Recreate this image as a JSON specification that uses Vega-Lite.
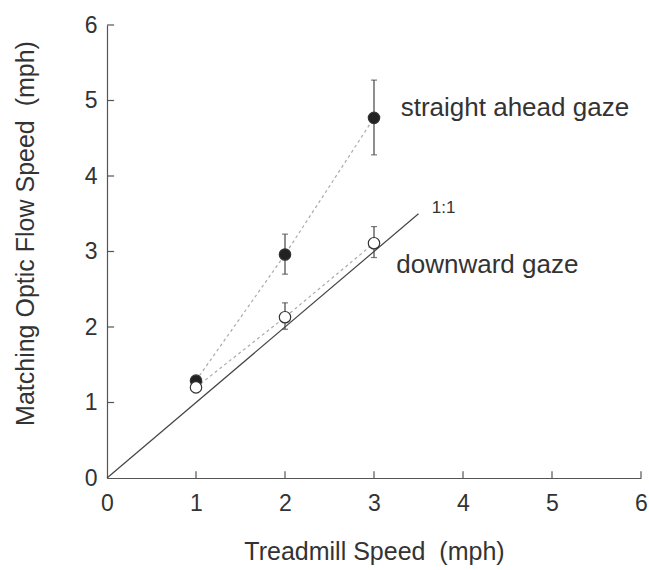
{
  "$schema": "https://vega.github.io/schema/vega-lite/v6.json",
  "autosize": "none",
  "width": 534,
  "height": 453,
  "padding": {"left": 107, "top": 25, "right": 8, "bottom": 92},
  "background": "white",
  "config": {
    "view": {"stroke": null},
    "font": "Liberation Sans",
    "axis": {
      "grid": false,
      "ticks": false,
      "labelFlush": false,
      "domainColor": "#555",
      "labelColor": "#333",
      "titleColor": "#333",
      "labelFont": "Liberation Sans",
      "titleFont": "Liberation Sans",
      "labelFontSize": 23,
      "titleFontSize": 25,
      "titleFontWeight": "normal",
      "domainWidth": 1.2
    }
  },
  "datasets": {
    "pts": [
      {"series": "straight", "x": 1, "y": 1.29, "lo": null, "hi": null},
      {"series": "straight", "x": 2, "y": 2.96, "lo": 2.7, "hi": 3.23},
      {"series": "straight", "x": 3, "y": 4.77, "lo": 4.28, "hi": 5.27},
      {"series": "downward", "x": 1, "y": 1.2, "lo": null, "hi": null},
      {"series": "downward", "x": 2, "y": 2.13, "lo": 1.97, "hi": 2.32},
      {"series": "downward", "x": 3, "y": 3.11, "lo": 2.92, "hi": 3.33}
    ],
    "unity": [{"x": 0, "y": 0}, {"x": 3.5, "y": 3.5}],
    "ticks": [{"v": 1}, {"v": 2}, {"v": 3}, {"v": 4}, {"v": 5}, {"v": 6}],
    "labels": [
      {"x": 3.3, "y": 4.9, "text": "straight ahead gaze", "size": 26},
      {"x": 3.25, "y": 2.82, "text": "downward gaze", "size": 26},
      {"x": 3.65, "y": 3.58, "text": "1:1", "size": 17}
    ]
  },
  "layer": [
    {
      "data": {"name": "unity"},
      "mark": {"type": "line", "color": "#444", "strokeWidth": 1.2},
      "encoding": {
        "x": {"field": "x", "type": "quantitative", "scale": {"domain": [0, 6], "nice": false}, "axis": {"title": "Treadmill Speed\u00a0 (mph)", "values": [0,1,2,3,4,5,6], "format": "d", "labelPadding": 14, "titlePadding": 24}},
        "y": {"field": "y", "type": "quantitative", "scale": {"domain": [0, 6], "nice": false}, "axis": {"title": "Matching Optic Flow Speed\u00a0 (mph)", "values": [0,1,2,3,4,5,6], "format": "d", "labelPadding": 10, "titlePadding": 46, "titleY": 208}}
      }
    },
    {
      "data": {"name": "ticks"},
      "mark": {"type": "rule", "color": "#555", "strokeWidth": 1.2},
      "encoding": {
        "x": {"field": "v", "type": "quantitative"},
        "y": {"datum": 0, "type": "quantitative"},
        "y2": {"datum": 0.09}
      }
    },
    {
      "data": {"name": "ticks"},
      "mark": {"type": "rule", "color": "#555", "strokeWidth": 1.2},
      "encoding": {
        "y": {"field": "v", "type": "quantitative"},
        "x": {"datum": 0, "type": "quantitative"},
        "x2": {"datum": 0.08}
      }
    },
    {
      "data": {"name": "pts"},
      "mark": {"type": "line", "color": "#aaa", "strokeWidth": 1.2, "strokeDash": [3, 3]},
      "encoding": {
        "x": {"field": "x", "type": "quantitative"},
        "y": {"field": "y", "type": "quantitative"},
        "detail": {"field": "series"}
      }
    },
    {
      "data": {"name": "pts"},
      "transform": [{"filter": "datum.lo != null"}],
      "mark": {"type": "rule", "color": "#444", "strokeWidth": 1.2},
      "encoding": {
        "x": {"field": "x", "type": "quantitative"},
        "y": {"field": "lo", "type": "quantitative"},
        "y2": {"field": "hi"}
      }
    },
    {
      "data": {"name": "pts"},
      "transform": [{"filter": "datum.lo != null"}, {"fold": ["lo", "hi"], "as": ["end", "v"]}],
      "mark": {"type": "tick", "color": "#444", "size": 6, "thickness": 1.2, "orient": "horizontal"},
      "encoding": {
        "x": {"field": "x", "type": "quantitative"},
        "y": {"field": "v", "type": "quantitative"}
      }
    },
    {
      "data": {"name": "pts"},
      "mark": {"type": "point", "filled": true, "size": 130, "strokeWidth": 1.2, "stroke": "#333", "opacity": 1},
      "encoding": {
        "x": {"field": "x", "type": "quantitative"},
        "y": {"field": "y", "type": "quantitative"},
        "fill": {"field": "series", "type": "nominal", "scale": {"domain": ["straight", "downward"], "range": ["#222", "white"]}, "legend": null}
      }
    },
    {
      "data": {"name": "labels"},
      "mark": {"type": "text", "align": "left", "baseline": "middle", "fill": "#333", "font": "Liberation Sans"},
      "encoding": {
        "x": {"field": "x", "type": "quantitative"},
        "y": {"field": "y", "type": "quantitative"},
        "text": {"field": "text"},
        "size": {"field": "size", "type": "quantitative", "scale": null}
      }
    }
  ]
}
